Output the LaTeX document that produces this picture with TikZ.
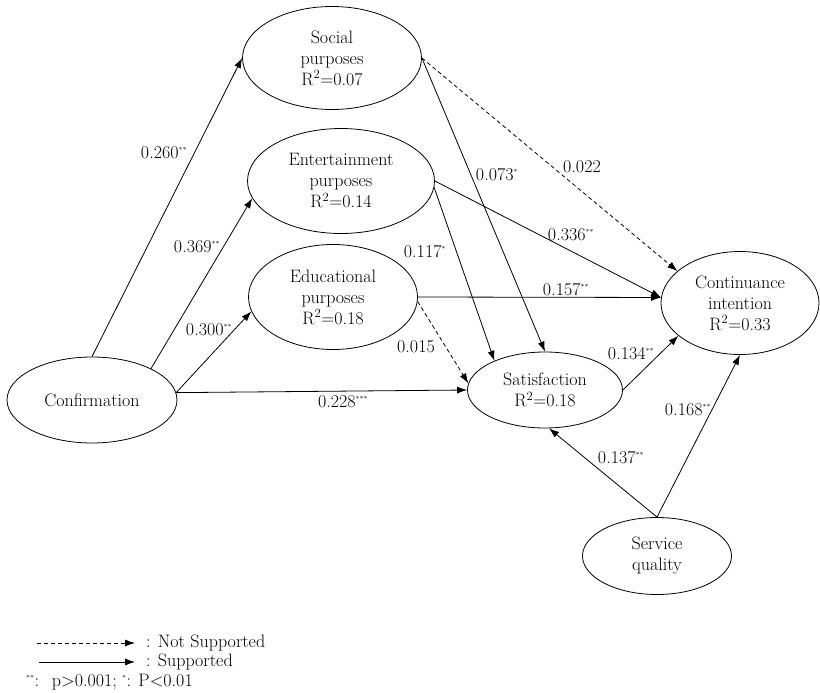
\documentclass[tikz,border=0pt]{standalone}
\usepackage{fontspec}
\usetikzlibrary{shapes.geometric,arrows.meta,positioning}
\newcommand{\diagfont}{\rmfamily\fontsize{18}{21}\selectfont}
\newcommand{\sig}[1]{\textsuperscript{\scriptsize #1}}
\tikzset{
  construct/.style={ellipse,draw=black,line width=0.8pt,align=center,inner sep=0pt,
    font=\diagfont},
  effect/.style={-{Latex[length=10pt,width=7pt]},line width=0.8pt},
  nseffect/.style={effect,dash pattern=on 4pt off 3pt},
  coef/.style={font=\diagfont,inner sep=1pt},
  legendtext/.style={font=\diagfont,inner sep=0pt,anchor=west},
}
\begin{document}
\begin{tikzpicture}[x=1pt,y=-1pt]
  \useasboundingbox (0,0) rectangle (820,693);
  \node[construct,minimum width=179pt,minimum height=103pt] (soc)  at (332,58)  {Social\\purposes\\R\textsuperscript{2}=0.07};
  \node[construct,minimum width=187pt,minimum height=105pt] (ent)  at (341,181) {Entertainment\\purposes\\R\textsuperscript{2}=0.14};
  \node[construct,minimum width=169pt,minimum height=105pt] (edu)  at (333,297) {Educational\\purposes\\R\textsuperscript{2}=0.18};
  \node[construct,minimum width=170pt,minimum height=86pt]  (conf) at (92,400)  {Confirmation};
  \node[construct,minimum width=158pt,minimum height=103pt] (cont) at (740,303) {Continuance\\intention\\R\textsuperscript{2}=0.33};
  \node[construct,minimum width=155pt,minimum height=76pt]  (sat)  at (545,390) {Satisfaction\\R\textsuperscript{2}=0.18};
  \node[construct,minimum width=149pt,minimum height=77pt]  (sq)   at (657,556) {Service\\quality};

  \draw[effect] (conf.north) -- (soc.west);
  \draw[effect] (conf.28) -- (ent.191);
  \draw[effect] (conf.5) -- (edu.190);
  \draw[effect] (conf.5) -- (sat.west);
  \draw[effect] (soc.east) -- (sat.north);
  \draw[nseffect] (soc.east) -- (cont.153);
  \draw[effect] (ent.east) -- (cont.176);
  \draw[effect] (ent.-4) -- (sat.150);
  \draw[effect] (edu.east) -- (cont.176);
  \draw[nseffect] (edu.-3) -- (sat.175);
  \draw[effect] (sat.east) -- (cont.208);
  \draw[effect] (sq.north) -- (sat.-84);
  \draw[effect] (sq.north) -- (cont.south);

  \node[coef] (c260) at (164,153) {0.260\sig{**}};
  \node[coef] (c369) at (197,247) {0.369\sig{**}};
  \node[coef] (c300) at (209,330) {0.300\sig{**}};
  \node[coef] (c228) at (343,402) {0.228\sig{***}};
  \node[coef] (c117) at (425,252) {0.117\sig{*}};
  \node[coef] (c015) at (416,347) {0.015};
  \node[coef] (c073) at (497,175) {0.073\sig{*}};
  \node[coef] (c022) at (582,167) {0.022};
  \node[coef] (c336) at (571,235) {0.336\sig{**}};
  \node[coef] (c157) at (566,290) {0.157\sig{**}};
  \node[coef] (c134) at (631,354) {0.134\sig{**}};
  \node[coef] (c168) at (688,410) {0.168\sig{**}};
  \node[coef] (c137) at (621,458) {0.137\sig{**}};

  \coordinate (ns1) at (37,643);
  \coordinate (ns2) at (135,643);
  \coordinate (s1) at (39,662);
  \coordinate (s2) at (135,662);
  \draw[nseffect] (ns1) -- (ns2);
  \draw[effect] (s1) -- (s2);
  \node[legendtext] (lns) at (146,643) {: Not Supported};
  \node[legendtext] (ls)  at (146,662) {: Supported};
  \node[legendtext] (lp)  at (26,682)  {\sig{**}:~ p>0.001; \sig{*}: P<0.01};
\end{tikzpicture}
\end{document}
